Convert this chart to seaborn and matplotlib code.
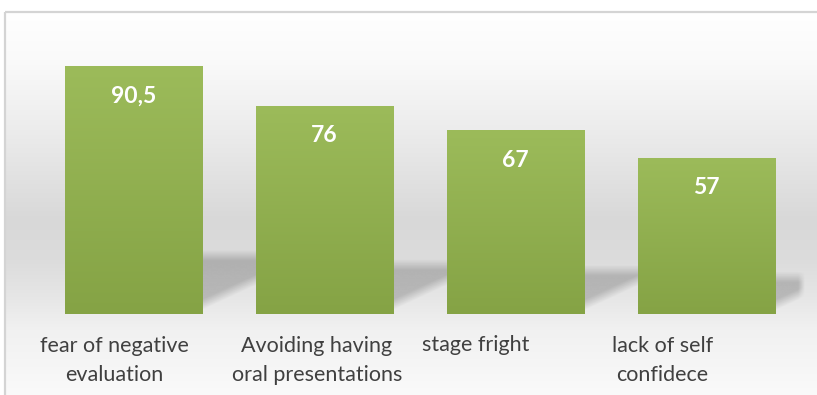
import numpy as np
import matplotlib
matplotlib.use("Agg")
import matplotlib.pyplot as plt
from matplotlib.patches import Rectangle
import seaborn as sns

# ---- data ----
categories = ["fear of negative evaluation", "Avoiding having oral presentations",
              "stage fright", "lack of self confidece"]
tick_labels = ["fear of negative\nevaluation", "Avoiding having\noral presentations",
               "stage fright", "lack of self\nconfidece"]
values = [90.5, 76, 67, 57]
value_labels = ["90,5", "76", "67", "57"]

# ---- layout ----
W, H = 817, 395
label_shift = [-0.10, -0.04, -0.21, -0.23]   # Excel-style label placement (data units)

sns.set_style("white")
plt.rcParams["font.family"] = ["Lato", "DejaVu Sans"]

fig = plt.figure(figsize=(W / 100, H / 100), dpi=100)
fig.patch.set_facecolor("white")

# chart-area background with vertical gradient
bg = fig.add_axes([0, 0, 1, 1], zorder=0)
bg.axis("off")
ys = np.arange(11, H + 6)
stop_y = [11, 60, 130, 220, 260, 300, 314, 330, 395]
stop_v = [255, 250, 236, 216, 220, 231, 236, 241, 250]
col = np.interp(ys, stop_y, stop_v) / 255.0
img = np.repeat(col[:, None, None], 3, axis=2)
bg.imshow(img, extent=(5, W + 10, H + 6, 11), origin="upper", aspect="auto",
          interpolation="bilinear")
bg.add_patch(Rectangle((5.5, 11.5), W + 10, H + 10, fill=False,
                       edgecolor="#d4d4d4", lw=1.6))
bg.set_xlim(0, W)
bg.set_ylim(H, 0)

# plot area
left_px, right_px, bottom_px, top_px = 38, 804, 314, 40
ax = fig.add_axes([left_px / W, (H - bottom_px) / H, (right_px - left_px) / W,
                   (bottom_px - top_px) / H], zorder=1)
ax.set_facecolor("none")

sns.barplot(x=categories, y=values, color="#93b152", saturation=1, width=0.72,
            ax=ax, zorder=2)

xlim = (-0.5, 3.51)
ylim = (0, 100)

top_c = np.array([0x9c, 0xbb, 0x5a]) / 255.0
bot_c = np.array([0x85, 0xa3, 0x45]) / 255.0
t = np.linspace(0, 1, 256)[:, None]
grad = (top_c[None, :] * (1 - t) + bot_c[None, :] * t)[:, None, :]

for i, p in enumerate(ax.patches):
    x0, y0, w, h = p.get_x(), p.get_y(), p.get_width(), p.get_height()
    p.set_edgecolor("none")
    im = ax.imshow(grad, extent=(x0, x0 + w, y0, y0 + h), origin="upper",
                   aspect="auto", zorder=2.1, interpolation="bilinear")
    im.set_clip_path(p)

    # soft perspective shadow to the right of the bar
    xr = x0 + w
    gx = np.linspace(xr - 0.02, xr + 0.34, 150)
    gy = np.linspace(0, 30, 220)
    X, Y = np.meshgrid(gx, gy)
    yline = 3.3 + 32.0 * (X - xr)
    a1 = np.clip((Y - yline) / 4.0 + 0.5, 0, 1)
    stop = 0.235 * h
    a2 = np.clip((stop - Y) / 4.0 + 0.5, 0, 1)
    a3 = np.clip((xlim[1] - X) / 0.035, 0, 1)
    alpha = 0.2 * a1 * a2 * a3
    rgba = np.zeros(X.shape + (4,))
    rgba[..., 3] = alpha
    ax.imshow(rgba, extent=(gx[0], gx[-1], gy[0], gy[-1]), origin="lower",
              aspect="auto", zorder=1.5, interpolation="bilinear")

    ax.annotate(value_labels[i], xy=(x0 + w / 2, values[i]), xytext=(0, -30),
                textcoords="offset pixels", ha="center", va="center",
                color="white", fontsize=16.5, fontweight="bold", zorder=3)

    two_lines = "\n" in tick_labels[i]
    ax.annotate(tick_labels[i], xy=(x0 + w / 2 + label_shift[i], 0),
                xytext=(0, -46.5 if two_lines else -31), textcoords="offset pixels",
                ha="center", va="center", color="#404040", fontsize=15.5,
                linespacing=1.55, annotation_clip=False)

ax.set_xlim(*xlim)
ax.set_ylim(*ylim)
ax.set_xticks([])
ax.set_yticks([])
ax.set_xlabel("")
ax.set_ylabel("")
for s in ax.spines.values():
    s.set_visible(False)

fig.savefig("out.png", dpi=100)
